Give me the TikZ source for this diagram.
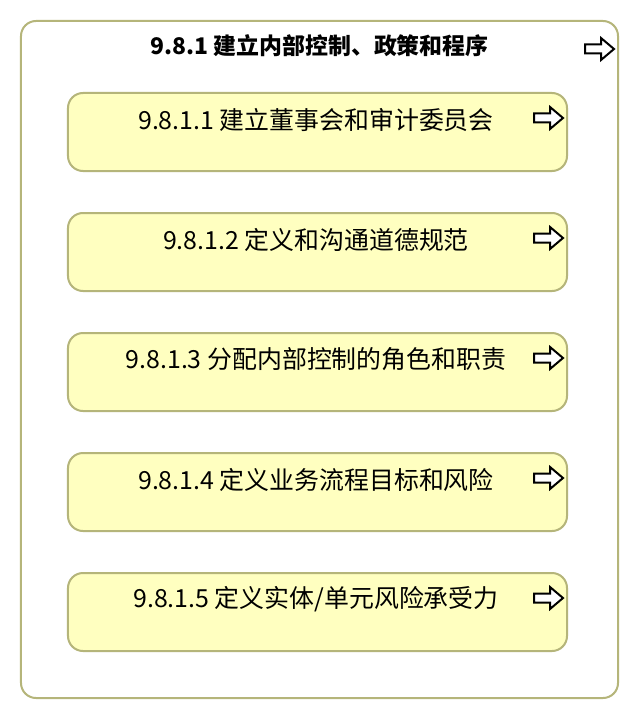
\documentclass[tikz,border=0pt]{standalone}
\usepackage{fontspec}
\setmainfont{Noto Sans CJK SC}
\usepackage{tikz}
\usetikzlibrary{positioning}
\definecolor{boxfill}{HTML}{FFFFC0}
\definecolor{boxline}{HTML}{B5B57A}
\newcommand{\flowicon}[1]{\draw[flow] (#1) ++(0,-4.5) -- ++(16,0) -- ++(0,-6.5) -- ++(13,11) -- ++(-13,11) -- ++(0,-6.5) -- ++(-16,0) -- cycle;}

\begin{document}
\begin{tikzpicture}[x=1bp,y=-1bp,
  grpbox/.style={draw=boxline, line width=2bp, rounded corners=15bp, fill=white, minimum width=597bp, minimum height=677bp, inner sep=0pt},
  taskbox/.style={draw=boxline, line width=2bp, rounded corners=15bp, fill=boxfill, minimum width=499bp, minimum height=78bp, inner sep=0pt},
  tasktext/.style={inner sep=0pt, font=\fontsize{25}{30}\selectfont},
  flow/.style={draw=black, line width=2bp, fill=white, line join=miter}]
\useasboundingbox (0,0) rectangle (640,720);
\node[grpbox] (grp) at (319.5,359.5) {};
\node[inner sep=0pt, font=\fontsize{23}{28}\selectfont\bfseries] (title) at ([yshift=-26bp]grp.north) {9.8.1 建立内部控制、政策和程序};
\coordinate (a0) at ([xshift=-34bp,yshift=-29bp]grp.north east);
\flowicon{a0}
% tasks
\node[taskbox] (b1) at (317.5,132) {};
\node[taskbox, below=40bp of b1] (b2) {};
\node[taskbox, below=40bp of b2] (b3) {};
\node[taskbox, below=40bp of b3] (b4) {};
\node[taskbox, below=40bp of b4] (b5) {};
\node[tasktext] (t1) at ([xshift=-1.5bp,yshift=-27.5bp]b1.north) {9.8.1.1 建立董事会和审计委员会};
\node[tasktext] (t2) at ([xshift=-1.5bp,yshift=-27.5bp]b2.north) {9.8.1.2 定义和沟通道德规范};
\node[tasktext] (t3) at ([xshift=-1.5bp,yshift=-27.5bp]b3.north) {9.8.1.3 分配内部控制的角色和职责};
\node[tasktext] (t4) at ([xshift=-1.5bp,yshift=-27.5bp]b4.north) {9.8.1.4 定义业务流程目标和风险};
\node[tasktext] (t5) at ([xshift=-1.5bp,yshift=-27.5bp]b5.north) {9.8.1.5 定义实体/单元风险承受力};
\foreach \i in {1,...,5} {
  \coordinate (a\i) at ([xshift=-34bp,yshift=-26bp]b\i.north east);
  \flowicon{a\i}
}
\end{tikzpicture}
\end{document}
